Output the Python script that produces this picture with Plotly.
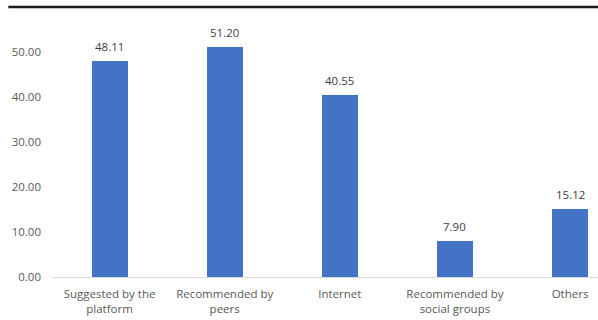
import plotly.graph_objects as go

categories = ["Suggested by the<br>platform", "Recommended by<br>peers", "Internet",
              "Recommended by<br>social groups", "Others"]
values = [48.11, 51.20, 40.55, 7.90, 15.12]
y_ticks = [0, 10, 20, 30, 40, 50]
y_tick_labels = ["0.00", "10.00", "20.00", "30.00", "40.00", "50.00"]

FONT = "Open Sans, sans-serif"
xs = list(range(len(categories)))

fig = go.Figure(go.Bar(
    x=xs,
    y=values,
    marker=dict(color="#4472C4", line=dict(width=0)),
    width=0.313,
))

# value labels sitting a little above each bar
for x, v in zip(xs, values):
    fig.add_annotation(x=x, y=v, text=f"{v:.2f}", showarrow=False,
                       yanchor="bottom", yshift=5,
                       font=dict(family=FONT, size=11.5, color="#404040"))

fig.update_layout(
    width=598, height=320,
    margin=dict(l=52, r=0, t=7, b=43),
    paper_bgcolor="white", plot_bgcolor="white",
    showlegend=False,
    bargap=0,
    xaxis=dict(
        range=[-0.5, 4.243],
        tickmode="array",
        tickvals=xs,
        ticktext=categories,
        tickfont=dict(family=FONT, size=11.5, color="#595959"),
        showline=True, linecolor="#D9D9D9", linewidth=1,
        showgrid=False, zeroline=False, ticks="",
        tickangle=0,
        ticklabelstandoff=6,
    ),
    yaxis=dict(
        range=[0, 60],
        tickmode="array",
        tickvals=y_ticks,
        ticktext=y_tick_labels,
        tickfont=dict(family=FONT, size=11.5, color="#595959"),
        showline=False, showgrid=False, zeroline=False, ticks="",
        ticklabelstandoff=10,
    ),
)

# heavy rule across the top of the figure
fig.add_shape(type="line", xref="paper", yref="paper",
              x0=-0.08, x1=1.0, y0=1.0, y1=1.0,
              line=dict(color="#1a1a1a", width=2.5))

fig.write_html("out.html")
